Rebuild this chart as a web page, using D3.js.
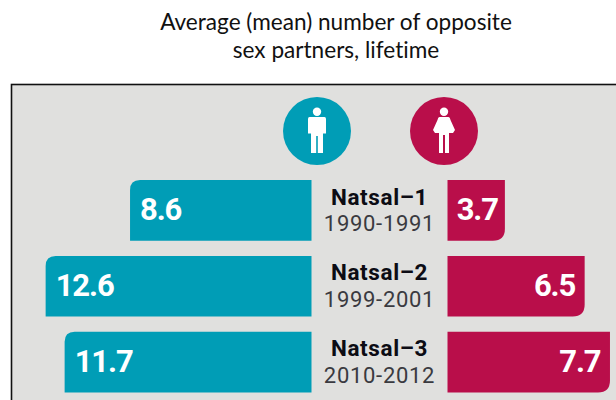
<!DOCTYPE html>
<html><head><meta charset="utf-8">
<script src="https://cdn.jsdelivr.net/npm/d3@7"></script>
<style>html,body{margin:0;padding:0;background:#fff;overflow:hidden}svg{display:block}text{font-variant-ligatures:none}</style>
</head><body><svg id="c" width="616" height="400"></svg>
<script>
const surveys = ["Natsal\u20131", "Natsal\u20132", "Natsal\u20133"];
const years = ["1990-1991", "1999-2001", "2010-2012"];
const menValues = [8.6, 12.6, 11.7];
const womenLabels = [3.7, 6.5, 7.7];
// The first women's bar is printed shorter than its 3.7 label in the source graphic.
const womenDrawnLengths = [2.72, 6.5, 7.7];
const titleLines = ["Average (mean) number of opposite", "sex partners, lifetime"];

const teal = "#009db6", red = "#b90e4a", grey = "#e0e0de";
const svg = d3.select("#c");
const unit = 21.1;
const xMen = d3.scaleLinear().domain([0, 12.6]).range([311.5, 311.5 - 12.6 * unit]);
const xWomen = d3.scaleLinear().domain([0, 7.7]).range([447.5, 447.5 + 7.7 * unit]);
const y = d3.scaleBand().domain(surveys).range([180, 392.5]).paddingInner(0.2).paddingOuter(0);

svg.append("rect").attr("x", 11.5).attr("y", 84.5).attr("width", 640).attr("height", 340)
  .attr("fill", grey).attr("stroke", "#111").attr("stroke-width", 1.6);

svg.selectAll("text.title").data(titleLines).join("text").attr("class", "title")
  .attr("x", 336).attr("y", (d, i) => 29.5 + i * 28.5)
  .attr("text-anchor", "middle").attr("font-family", "Lato, 'Open Sans', sans-serif")
  .attr("font-size", 22.6).attr("fill", "#111").text(d => d);

function leftBar(x0, x1, y0, y1, r) { // rounded at top-left
  return `M${x1},${y0}H${x0 + r}Q${x0},${y0} ${x0},${y0 + r}V${y1}H${x1}Z`;
}
function rightBar(x0, x1, y0, y1, r) { // rounded at bottom-right
  return `M${x0},${y0}H${x1}V${y1 - r}Q${x1},${y1} ${x1 - r},${y1}H${x0}Z`;
}
const bars = surveys.map((s, i) => ({ s, i, top: y(s), bot: y(s) + y.bandwidth() }));

svg.selectAll("path.men").data(bars).join("path").attr("class", "men").attr("fill", teal)
  .attr("d", d => leftBar(xMen(menValues[d.i]), xMen(0), d.top, d.bot, 10));
svg.selectAll("path.women").data(bars).join("path").attr("class", "women").attr("fill", red)
  .attr("d", d => rightBar(xWomen(0), xWomen(womenDrawnLengths[d.i]), d.top, d.bot, 12));

const valueFont = "Roboto, 'Open Sans', sans-serif";
svg.selectAll("text.mv").data(bars).join("text").attr("class", "mv")
  .attr("x", d => xMen(menValues[d.i]) + 10).attr("y", d => d.top + 40)
  .attr("font-family", valueFont).attr("font-weight", 700).attr("font-size", 31)
  .attr("letter-spacing", -1.1).attr("fill", "#fff")
  .text(d => menValues[d.i].toFixed(1));
svg.selectAll("text.wv").data(bars).join("text").attr("class", "wv")
  .attr("x", d => xWomen(womenDrawnLengths[d.i]) - (d.i === 0 ? 7 : 9.5)).attr("y", d => d.top + 40)
  .attr("text-anchor", "end")
  .attr("font-family", valueFont).attr("font-weight", 700).attr("font-size", 31)
  .attr("letter-spacing", -1.1).attr("fill", "#fff")
  .text(d => womenLabels[d.i].toFixed(1));

svg.selectAll("text.sv").data(bars).join("text").attr("class", "sv")
  .attr("x", 379.5).attr("y", d => d.top + 24.5).attr("text-anchor", "middle")
  .attr("font-family", valueFont).attr("font-weight", 700).attr("font-size", 22.5)
  .attr("letter-spacing", 0.6).attr("fill", "#0c0c14")
  .text(d => d.s);
svg.selectAll("text.yr").data(bars).join("text").attr("class", "yr")
  .attr("x", 379.5).attr("y", d => d.top + 51).attr("text-anchor", "middle")
  .attr("font-family", valueFont).attr("font-size", 22)
  .attr("letter-spacing", 0.7).attr("fill", "#3a3a40")
  .text((d, i) => years[i]);

// icons
const man = svg.append("g").attr("transform", "translate(317,131)");
man.append("circle").attr("r", 34).attr("fill", teal);
const woman = svg.append("g").attr("transform", "translate(444,131)");
woman.append("circle").attr("r", 34).attr("fill", red);
[man, woman].forEach(g => g.append("circle").attr("cy", -19.3).attr("r", 4.2).attr("fill", "#fff"));
man.append("path").attr("fill", "#fff")
  .attr("d", "M-7.5,-14H7.5Q9,-14 9,-12V2.5H6V22H0.8V5H-0.8V22H-6V2.5H-9V-12Q-9,-14 -7.5,-14Z");
woman.append("path").attr("fill", "#fff")
  .attr("d", "M-4.5,-14H4.5Q6,-14 6.5,-11L11,-1L9,2H5V22H1V4H-1V22H-5V2H-9L-11,-1L-6.5,-11Q-6,-14 -4.5,-14Z");
</script></body></html>
